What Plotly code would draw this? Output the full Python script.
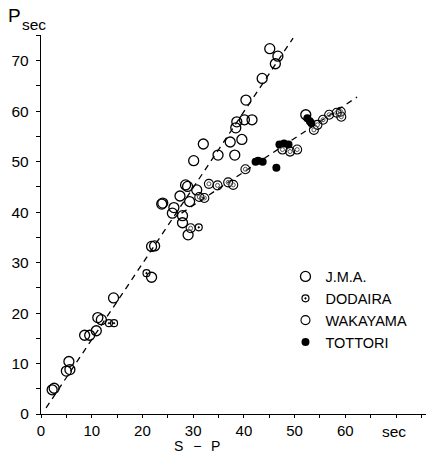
import plotly.graph_objects as go

# ---- data ----
jma_x = [2.2, 2.6, 5.0, 5.7, 5.5, 8.6, 9.6, 10.9, 11.2, 11.9, 14.3, 21.8, 21.8, 22.4,
         23.8, 24.0, 25.9, 26.2, 27.4, 27.9, 27.9, 29.0, 28.5, 28.9, 30.7, 29.3, 30.1,
         32.0, 34.9, 37.3, 38.2, 39.6, 38.4, 38.6, 40.1, 41.6, 40.4, 43.6, 46.2, 46.7,
         45.1, 52.2]
jma_y = [4.8, 5.1, 8.5, 8.8, 10.4, 15.6, 15.6, 16.5, 19.1, 18.7, 23.0, 27.1, 33.2, 33.3,
         41.6, 41.8, 39.8, 40.9, 43.2, 39.3, 37.9, 35.5, 45.4, 45.1, 44.4, 42.1, 50.2,
         53.5, 51.3, 53.9, 51.3, 54.4, 56.7, 57.9, 58.3, 58.3, 62.2, 66.5, 69.4, 70.9,
         72.4, 59.3]

dodaira_x = [13.4, 14.4, 20.8, 31.1]
dodaira_y = [18.0, 18.0, 27.9, 37.0]

wakayama_x = [29.5, 31.2, 32.2, 33.1, 34.8, 36.9, 37.9, 40.3, 47.6, 49.1, 50.5, 53.8,
              54.5, 55.6, 56.8, 58.3, 59.1, 59.2]
wakayama_y = [36.8, 43.0, 42.8, 45.6, 45.3, 45.9, 45.4, 48.5, 52.4, 52.0, 52.4, 56.3,
              57.3, 58.3, 59.3, 59.7, 59.9, 58.9]

tottori_x = [42.3, 42.8, 43.7, 46.4, 47.0, 47.9, 48.8, 52.5, 53.0, 53.3]
tottori_y = [50.0, 50.2, 50.0, 48.8, 53.4, 53.6, 53.4, 58.6, 58.0, 57.6]

fit1_x = [1.0, 49.7]
fit1_y = [1.2, 74.5]
fit2_x = [27.7, 62.3]
fit2_y = [39.8, 62.8]

x_ticks = [0, 10, 20, 30, 40, 50, 60]
y_ticks = [0, 10, 20, 30, 40, 50, 60, 70]

FONT = "Liberation Sans"

fig = go.Figure()

dash = "6px,5px"
fig.add_trace(go.Scatter(x=fit1_x, y=fit1_y, mode="lines", showlegend=False,
                         line=dict(color="black", width=1.3, dash=dash), hoverinfo="skip"))
fig.add_trace(go.Scatter(x=fit2_x, y=fit2_y, mode="lines", showlegend=False,
                         line=dict(color="black", width=1.3, dash=dash), hoverinfo="skip"))

fig.add_trace(go.Scatter(x=jma_x, y=jma_y, mode="markers", name="J.M.A.",
                         marker=dict(symbol="circle-open", size=10, color="black",
                                     line=dict(width=1.3, color="black"))))
fig.add_trace(go.Scatter(x=dodaira_x, y=dodaira_y, mode="markers", name="DODAIRA",
                         marker=dict(symbol="circle-open-dot", size=7, color="black",
                                     line=dict(width=1.2, color="black"))))
fig.add_trace(go.Scatter(x=wakayama_x, y=wakayama_y, mode="markers", name="WAKAYAMA",
                         marker=dict(symbol="circle-open", size=9, color="black",
                                     line=dict(width=1.1, color="black"))))
fig.add_trace(go.Scatter(x=tottori_x, y=tottori_y, mode="markers", name="TOTTORI",
                         marker=dict(symbol="circle", size=8, color="black",
                                     line=dict(width=0))))
fig.add_trace(go.Scatter(x=wakayama_x, y=wakayama_y, mode="markers", showlegend=False,
                         marker=dict(symbol="circle-open", size=4, color="#555",
                                     line=dict(width=1.0, color="#555"))))

axis_common = dict(
    showgrid=False, zeroline=False, showline=True, linecolor="black", linewidth=1.3,
    ticks="outside", tickwidth=1.2, tickcolor="black",
    minor=dict(ticks="outside", tickwidth=1.2, tickcolor="black", dtick=5),
)

fig.update_layout(
    width=426, height=455,
    margin=dict(l=41, r=0, t=35, b=41),
    paper_bgcolor="white", plot_bgcolor="white",
    font=dict(family=FONT, color="black"),
    xaxis=dict(range=[0, 75.9], tickvals=x_ticks, ticktext=[str(v) for v in x_ticks],
               ticklen=3, minor_ticklen=3,
               tickfont=dict(family=FONT, size=15, color="black"), **axis_common),
    yaxis=dict(range=[0, 75.1], tickvals=y_ticks, ticktext=[str(v) for v in y_ticks],
               ticklen=4, minor_ticklen=4, ticklabelstandoff=4,
               tickfont=dict(family=FONT, size=15.5, color="black"), **axis_common),
    legend=dict(x=0.635, y=0.405, xanchor="left", yanchor="top",
                bgcolor="rgba(0,0,0,0)", borderwidth=0, tracegroupgap=0,
                font=dict(family=FONT, size=14.5, color="black"),
                itemwidth=30),
    showlegend=True,
)

fig.add_annotation(text="S\u2002\u2009−\u2002\u2009P", xref="paper", yref="paper", x=0.405,
                   y=(414.3 - 455) / 379.3,
                   showarrow=False, font=dict(family=FONT, size=14, color="black"),
                   xanchor="center", yanchor="bottom", borderpad=0)
fig.add_annotation(text="sec", xref="paper", yref="paper", x=0.917, y=-0.045,
                   showarrow=False, font=dict(family=FONT, size=15.5, color="black"),
                   xanchor="center", yanchor="middle")
fig.add_annotation(text="P", xref="paper", yref="paper", x=(14 - 41) / 385, y=(414.3 - 15) / 379.3,
                   showarrow=False, font=dict(family=FONT, size=19, color="black"),
                   xanchor="center", yanchor="middle")
fig.add_annotation(text="sec", xref="paper", yref="paper", x=(34 - 41) / 385, y=(414.3 - 24) / 379.3,
                   showarrow=False, font=dict(family=FONT, size=15.5, color="black"),
                   xanchor="center", yanchor="middle")

fig.write_html("out.html")
